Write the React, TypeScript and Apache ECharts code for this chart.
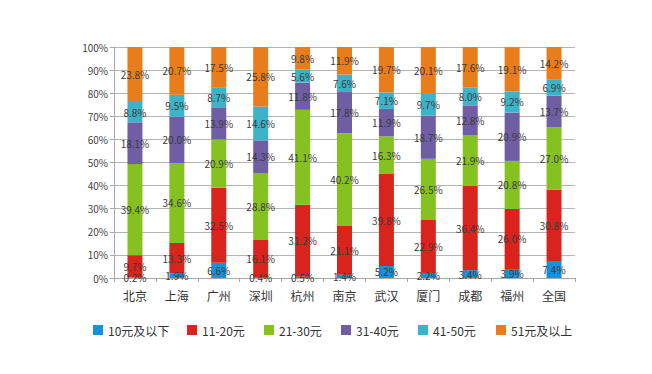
import React, { useEffect, useRef } from "react";
import * as echarts from "echarts";

const cities = ["北京", "上海", "广州", "深圳", "杭州", "南京", "武汉", "厦门", "成都", "福州", "全国"];
const seriesNames = ["10元及以下", "11-20元", "21-30元", "31-40元", "41-50元", "51元及以上"];
const v10 = [0.2, 1.9, 6.6, 0.4, 0.5, 1.4, 5.2, 2.2, 3.4, 3.9, 7.4];
const v20 = [9.7, 13.3, 32.5, 16.1, 31.2, 21.1, 39.8, 22.9, 36.4, 26.0, 30.8];
const v30 = [39.4, 34.6, 20.9, 28.8, 41.1, 40.2, 16.3, 26.5, 21.9, 20.8, 27.0];
const v40 = [18.1, 20.0, 13.9, 14.3, 11.8, 17.8, 11.9, 18.7, 12.8, 20.9, 13.7];
const v50 = [8.8, 9.5, 8.7, 14.6, 5.6, 7.6, 7.1, 9.7, 8.0, 9.2, 6.9];
const v51 = [23.8, 20.7, 17.5, 25.8, 9.8, 11.9, 19.7, 20.1, 17.6, 19.1, 14.2];
const colors = ["#1592db", "#d8241d", "#86c122", "#6f5ea4", "#3bb3c8", "#ea7d1b"];
const legendLefts = [88, 182, 259, 336, 413, 491];

export default function App() {
  const ref = useRef<HTMLDivElement>(null);
  useEffect(() => {
    if (!ref.current) return;
    const chart = echarts.init(ref.current, null, { renderer: "svg" });
    const font = "'Noto Sans CJK SC', 'Noto Sans', sans-serif";
    const all = [v10, v20, v30, v40, v50, v51];
    chart.setOption({
      animation: false,
      textStyle: { fontFamily: font },
      color: colors,
      grid: { left: 114, right: 77, top: 47, bottom: 96, containLabel: false },
      legend: seriesNames.map((n, i) => ({
        left: legendLefts[i],
        top: 319,
        itemWidth: 10,
        itemHeight: 10,
        icon: "rect",
        data: [n],
        textStyle: { fontSize: 12, color: "#333" },
      })),
      xAxis: {
        type: "category",
        data: cities,
        axisLine: { lineStyle: { color: "#a8a8a8" } },
        axisTick: { show: true, length: 4, lineStyle: { color: "#a8a8a8" } },
        axisLabel: { fontSize: 12, color: "#333", margin: 11 },
      },
      yAxis: {
        type: "value",
        min: 0,
        max: 100,
        interval: 10,
        axisLine: { show: true, lineStyle: { color: "#a8a8a8" } },
        axisTick: { show: true, length: 4, lineStyle: { color: "#a8a8a8" } },
        axisLabel: { fontSize: 10, color: "#444", formatter: "{value}%", margin: 6 },
        splitLine: { lineStyle: { color: "#b4b4b4" } },
      },
      series: all.map((d, i) => ({
        name: seriesNames[i],
        type: "bar",
        stack: "total",
        barWidth: 15,
        data: d,
        label: {
          show: true,
          position: "inside",
          formatter: (p: any) => p.value.toFixed(1) + "%",
          fontSize: 10,
          color: "#3a3a3a",
          textBorderWidth: 0,
        },
      })),
    });
    return () => chart.dispose();
  }, []);
  return <div ref={ref} style={{ width: 652, height: 374, marginLeft: -8, marginTop: -8 }} />;
}
